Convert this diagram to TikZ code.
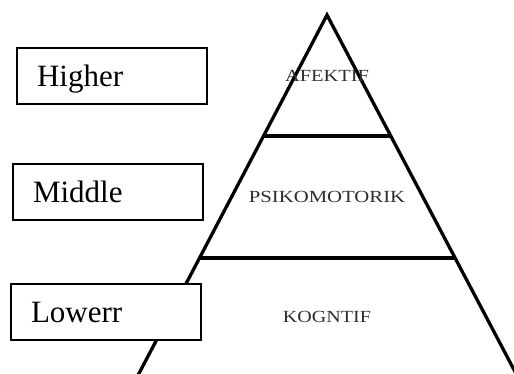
\documentclass[tikz,border=0pt]{standalone}
\usepackage{fontspec}
\setmainfont{Liberation Serif}
\usetikzlibrary{positioning}
\definecolor{levelgray}{RGB}{45,45,45}

\tikzset{
	levelbox/.style={draw, line width=1.8pt, fill=white, minimum width=190pt, minimum height=56pt, inner xsep=20pt, inner ysep=0pt, text width=150pt, text depth=0pt, align=left, font=\fontsize{31}{31}\selectfont},
	domainlabel/.style={text=levelgray, font=\fontsize{17}{17}\selectfont},
	pyr/.style={line width=3.3pt}
}

\begin{document}
\begin{tikzpicture}[x=1pt, y=-1pt]

\useasboundingbox (0,0) rectangle (514,374);
\clip (0,0) rectangle (514,374);

%---------PYRAMID-----------%
\coordinate (apex) at (327,15);
\coordinate (bl) at (124,402);
\coordinate (br) at (531,402);
\draw[pyr, line join=miter] (bl) -- (apex) -- (br);

\coordinate (t1) at (263,136);
\coordinate (t2) at (391,136);
\coordinate (m1) at (199,258);
\coordinate (m2) at (455,258);
\draw[pyr] (t1) -- (t2);
\draw[pyr] (m1) -- (m2);

\node [domainlabel] (afektif) at (327,76) {\scalebox{1.2}[1]{AFEKTIF}};
\node [domainlabel] (psiko) at (327,197) {\scalebox{1.22}[1]{PSIKOMOTORIK}};
\node [domainlabel] (kogntif) at (327,317) {\scalebox{1.18}[1]{KOGNTIF}};

%---------LEVELS-----------%
\node [levelbox] (higher) at (112,76) {Higher};
\node [levelbox] (middle) at (108,192) {Middle};
\node [levelbox] (lowerr) at (106,312) {Lowerr};

\end{tikzpicture}
\end{document}
